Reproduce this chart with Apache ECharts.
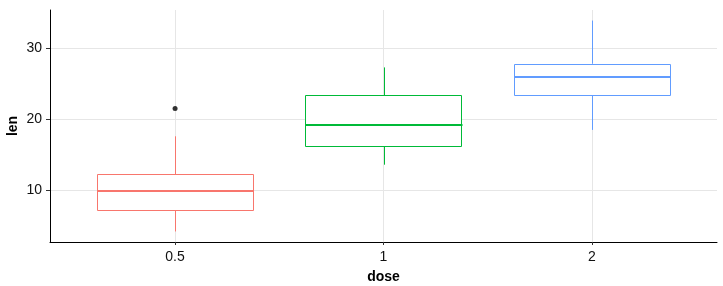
<!DOCTYPE html>
<html>
<head>
<meta charset="utf-8">
<script src="https://cdn.jsdelivr.net/npm/echarts@6/dist/echarts.min.js"></script>
<style>html,body{margin:0;padding:0;background:#fff}#c{width:723px;height:286px}</style>
</head>
<body>
<div id="c"></div>
<script>
// ---- data (ToothGrowth len by dose) ----
const doses = ['0.5', '1', '2'];
const lowerWhisker = [4.2, 13.6, 18.5];
const q1 = [7.225, 16.25, 23.525];
const median = [9.85, 19.25, 25.95];
const q3 = [12.25, 23.375, 27.825];
const upperWhisker = [17.6, 27.3, 33.9];
const outlierDose = [0];
const outlierLen = [21.5];
const yTicks = [10, 20, 30];
const colors = ['#F8766D', '#00BA38', '#619CFF'];

const boxData = doses.map((d, i) => [i, lowerWhisker[i], q1[i], median[i], q3[i], upperWhisker[i]]);
const outData = outlierDose.map((d, i) => [d, outlierLen[i]]);

const chart = echarts.init(document.getElementById('c'), null, {renderer: 'canvas'});
const BOXW = 0.75;

chart.setOption({
  animation: false,
  backgroundColor: '#fff',
  grid: {left: 50, right: 6, top: 10, bottom: 44, containLabel: false, outerBoundsMode: 'none'},
  xAxis: {
    type: 'value', min: -0.6, max: 2.6,
    name: 'dose', nameLocation: 'middle', nameGap: 28, nameMoveOverlap: false,
    nameTextStyle: {fontFamily: 'Liberation Sans', fontWeight: 'bold', fontSize: 14, color: '#000'},
    axisLine: {show: true, onZero: false, lineStyle: {color: '#000', width: 1}},
    axisTick: {show: true, length: 3, customValues: [0, 1, 2], lineStyle: {color: '#333'}},
    axisLabel: {customValues: [0, 1, 2], formatter: v => doses[Math.round(v)], margin: 8,
      fontFamily: 'Liberation Sans', fontSize: 14, color: '#111'},
    splitLine: {show: true, lineStyle: {color: '#e6e6e6', width: 1}}
  },
  yAxis: {
    type: 'value', min: 2.715, max: 35.385,
    name: 'len', nameLocation: 'middle', nameGap: 30, nameRotate: 90, nameMoveOverlap: false,
    nameTextStyle: {fontFamily: 'Liberation Sans', fontWeight: 'bold', fontSize: 14, color: '#000'},
    axisLine: {show: true, onZero: false, lineStyle: {color: '#000', width: 1}},
    axisTick: {show: true, length: 4, customValues: yTicks, lineStyle: {color: '#333'}},
    axisLabel: {customValues: yTicks, margin: 8,
      fontFamily: 'Liberation Sans', fontSize: 14, color: '#111'},
    splitLine: {show: true, lineStyle: {color: '#e6e6e6', width: 1}}
  },
  series: [
    {
      type: 'custom',
      data: boxData,
      encode: {x: 0, y: [1, 2, 3, 4, 5]},
      renderItem: function (params, api) {
        const i = api.value(0);
        const c = colors[i];
        const pLo = api.coord([i, api.value(1)]);
        const pQ1 = api.coord([i, api.value(2)]);
        const pMed = api.coord([i, api.value(3)]);
        const pQ3 = api.coord([i, api.value(4)]);
        const pHi = api.coord([i, api.value(5)]);
        const L = api.coord([i - BOXW / 2, api.value(3)])[0];
        const R = api.coord([i + BOXW / 2, api.value(3)])[0];
        const x = Math.round(pMed[0]) + 0.5;
        const st = {stroke: c, lineWidth: 1, fill: null};
        return {
          type: 'group',
          children: [
            {type: 'line', shape: {x1: x, y1: pHi[1], x2: x, y2: pQ3[1]}, style: st},
            {type: 'line', shape: {x1: x, y1: pQ1[1], x2: x, y2: pLo[1]}, style: st},
            {type: 'rect', shape: {x: Math.round(L) + 0.5, y: Math.round(pQ3[1]) + 0.5, width: Math.round(R - L), height: Math.round(pQ1[1] - pQ3[1])},
              style: {stroke: c, lineWidth: 1, fill: '#fff'}},
            {type: 'line', shape: {x1: Math.round(L) + 0.5, y1: Math.round(pMed[1]), x2: Math.round(R) + 0.5, y2: Math.round(pMed[1])},
              style: {stroke: c, lineWidth: 2}}
          ]
        };
      },
      z: 3
    },
    {
      type: 'scatter',
      data: outData,
      symbol: 'circle', symbolSize: 5,
      itemStyle: {color: '#000'},
      z: 4
    }
  ]
});
</script>
</body>
</html>
